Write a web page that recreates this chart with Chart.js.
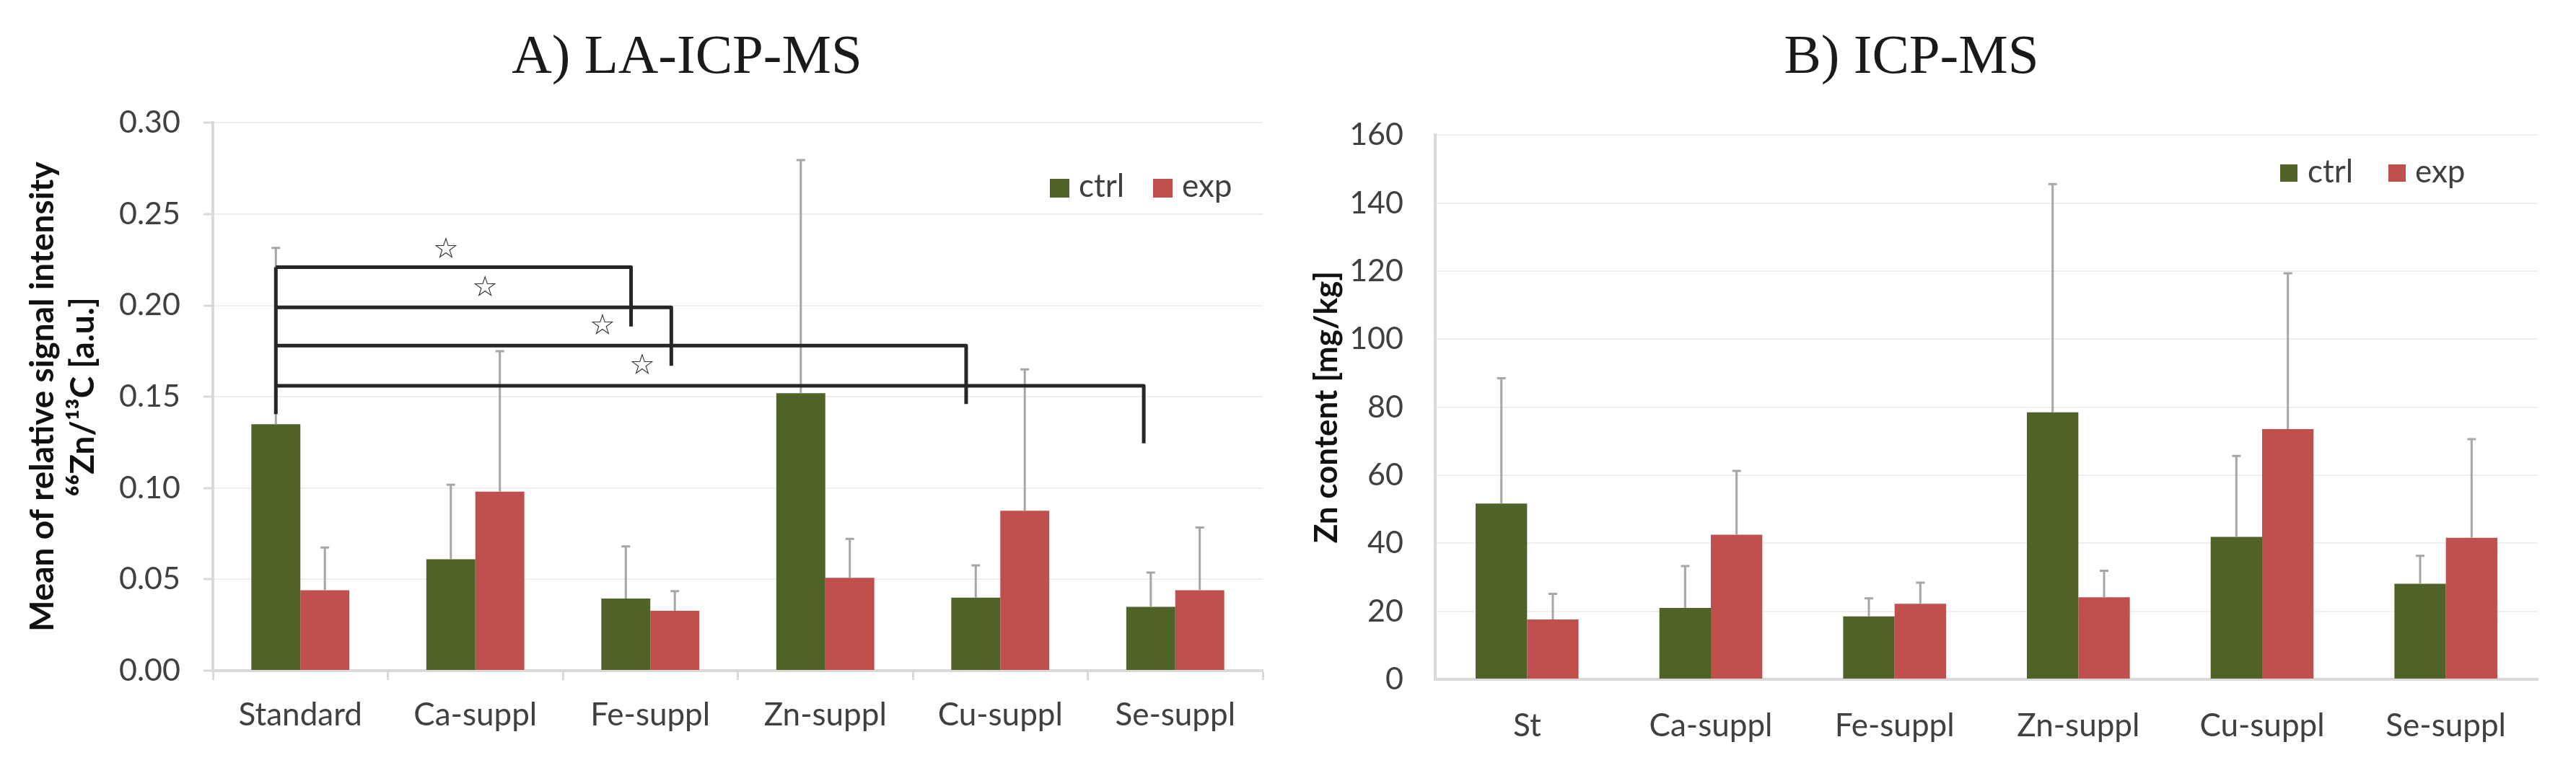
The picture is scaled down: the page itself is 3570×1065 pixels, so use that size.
<!DOCTYPE html>
<html><head><meta charset="utf-8">
<script src="https://cdn.jsdelivr.net/npm/chart.js@4/dist/chart.umd.min.js"></script>
<style>
html,body{margin:0;padding:0;background:#fff;width:3570px;height:1065px;overflow:hidden}
canvas{position:absolute;top:0}
#cA{left:0}
#cB{left:1728px}
</style></head><body>
<canvas id="cA" width="1904" height="1065"></canvas>
<canvas id="cB" width="1842" height="1065"></canvas>
<script>
// ---------- data ----------
const categoriesA = ['Standard','Ca-suppl','Fe-suppl','Zn-suppl','Cu-suppl','Se-suppl'];
const categoriesB = ['St','Ca-suppl','Fe-suppl','Zn-suppl','Cu-suppl','Se-suppl'];
const seriesNames = ['ctrl','exp'];

const ctrlA   = [0.135, 0.061, 0.0395, 0.152, 0.040, 0.035];
const ctrlSdA = [0.0965, 0.0408, 0.0285, 0.1276, 0.0177, 0.0187];
const expA    = [0.044, 0.098, 0.0328, 0.0508, 0.0876, 0.044];
const expSdA  = [0.0234, 0.077, 0.0107, 0.0214, 0.0774, 0.0344];

const ctrlB   = [51.7, 21.0, 18.5, 78.5, 41.9, 28.1];
const ctrlSdB = [36.8, 12.3, 5.3, 67.1, 23.8, 8.2];
const expB    = [17.6, 42.5, 22.2, 24.1, 73.6, 41.6];
const expSdB  = [7.5, 18.8, 6.2, 7.8, 45.8, 29.0];

const yTicksA = [0, 0.05, 0.10, 0.15, 0.20, 0.25, 0.30];
const yTicksB = [0, 20, 40, 60, 80, 100, 120, 140, 160];

// significance brackets (x in category-index units, y in axis units)
const bracketFrom    = -0.14;
const bracketFromLow = 0.1405;
const bracketLevel   = [0.221, 0.199, 0.178, 0.156];
const bracketTo      = [1.89, 2.12, 3.805, 4.82];
const bracketToLow   = [0.1885, 0.167, 0.146, 0.1245];
const starX = [0.832, 1.055, 1.727, 1.953];
const starY = [0.230, 0.209, 0.188, 0.1665];

// ---------- styles ----------
const GREEN = '#4f6228', RED = '#c0504d';
const AXIS = '#d9d9d9', GRID = '#eeeeee', TXT = '#404040';
Chart.defaults.font.family = 'Lato';

// ---------- plugins ----------
function errorBarPlugin() {
  return {
    id: 'errorBars',
    afterDatasetDraw(chart, args) {
      const ds = chart.data.datasets[args.index];
      if (!ds.errors) return;
      const y = chart.scales.y, ctx = chart.ctx;
      ctx.save();
      ctx.strokeStyle = '#a6a6a6';
      ctx.lineWidth = 3;
      args.meta.data.forEach((bar, i) => {
        const yb = y.getPixelForValue(ds.data[i]);
        const yt = y.getPixelForValue(ds.data[i] + ds.errors[i]);
        ctx.beginPath();
        ctx.moveTo(bar.x, yb); ctx.lineTo(bar.x, yt);
        ctx.moveTo(bar.x - 6, yt); ctx.lineTo(bar.x + 6, yt);
        ctx.stroke();
      });
      ctx.restore();
    }
  };
}
function legendPlugin(cfg) {
  return {
    id: 'insideLegend',
    afterDraw(chart) {
      const ctx = chart.ctx;
      ctx.save();
      ctx.font = '44px Lato';
      ctx.textAlign = 'left';
      ctx.textBaseline = 'alphabetic';
      chart.data.datasets.forEach((d, i) => {
        ctx.fillStyle = d.backgroundColor;
        ctx.fillRect(cfg.boxX[i], cfg.boxTop, cfg.boxW, cfg.boxH);
        ctx.fillStyle = TXT;
        ctx.fillText(d.label, cfg.textX[i], cfg.baseline);
      });
      ctx.restore();
    }
  };
}
function bracketPlugin() {
  return {
    id: 'brackets',
    afterDatasetsDraw(chart) {
      const xs = chart.scales.x, ys = chart.scales.y, ctx = chart.ctx;
      const X = v => xs.getPixelForValue(v), Y = v => ys.getPixelForValue(v);
      ctx.save();
      ctx.strokeStyle = '#262626';
      ctx.lineWidth = 5;
      ctx.lineJoin = 'round';
      ctx.beginPath();
      ctx.moveTo(X(bracketFrom), Y(bracketFromLow));
      ctx.lineTo(X(bracketFrom), Y(bracketLevel[0]));
      ctx.stroke();
      bracketLevel.forEach((lv, i) => {
        ctx.beginPath();
        ctx.moveTo(X(bracketFrom), Y(lv));
        ctx.lineTo(X(bracketTo[i]), Y(lv));
        ctx.lineTo(X(bracketTo[i]), Y(bracketToLow[i]));
        ctx.stroke();
      });
      ctx.font = '40px "DejaVu Sans"';
      ctx.fillStyle = '#333';
      ctx.textAlign = 'center';
      ctx.textBaseline = 'middle';
      starX.forEach((v, i) => ctx.fillText('\u2606', X(v), Y(starY[i])));
      ctx.restore();
    }
  };
}

function barSets(ctrl, ctrlSd, exp, expSd) {
  return [
    {label: seriesNames[0], data: ctrl, errors: ctrlSd, backgroundColor: GREEN},
    {label: seriesNames[1], data: exp, errors: expSd, backgroundColor: RED}
  ];
}

function spacer(w) {
  return {type: 'linear', position: 'right', display: true, grid: {display: false},
    border: {display: false}, ticks: {display: false}, afterFit(s) { s.width = w; }};
}

// ---------- chart A ----------
new Chart(document.getElementById('cA'), {
  type: 'bar',
  data: {labels: categoriesA, datasets: barSets(ctrlA, ctrlSdA, expA, expSdA)},
  options: {
    responsive: false, animation: false, devicePixelRatio: 1, events: [],
    datasets: {bar: {categoryPercentage: 0.56, barPercentage: 1.0}},
    layout: {padding: 0},
    plugins: {
      legend: {display: false}, tooltip: {enabled: false},
      title: {display: true, text: 'A) LA-ICP-MS', color: '#1a1a1a',
        font: {family: 'Liberation Serif', size: 77, weight: 'normal'}, padding: {top: 35, bottom: 43}}
    },
    scales: {
      x: {type: 'category', offset: true,
        grid: {display: true, drawOnChartArea: false, drawTicks: true, tickLength: 13, tickColor: AXIS, tickWidth: 3, offset: true},
        border: {color: AXIS, width: 4},
        ticks: {color: TXT, font: {size: 44}, padding: 22, autoSkip: false, maxRotation: 0},
        afterFit(s) { s.height = 135; }},
      y: {type: 'linear', min: 0, max: 0.30,
        afterBuildTicks(s) { s.ticks = yTicksA.map(v => ({value: v})); },
        grid: {color: GRID, lineWidth: 2, drawTicks: true, tickLength: 13, tickColor: AXIS, tickWidth: 3},
        border: {color: AXIS, width: 4},
        ticks: {color: TXT, font: {size: 43}, padding: 32, callback: v => Number(v).toFixed(2)},
        title: {display: true, text: ['Mean of relative signal intensity', '\u2076\u2076Zn/\u00b9\u00b3C [a.u.]'],
          color: '#111', font: {size: 46, weight: 'bold', lineHeight: 1.22}, padding: {top: 31, bottom: 0}},
        afterFit(s) { s.width = 295; }},
      yr: spacer(154)
    }
  },
  plugins: [errorBarPlugin(), bracketPlugin(),
    legendPlugin({boxX: [1455, 1598], boxTop: 248, boxW: 27, boxH: 26, textX: [1495, 1638], baseline: 273})]
});

// ---------- chart B ----------
new Chart(document.getElementById('cB'), {
  type: 'bar',
  data: {labels: categoriesB, datasets: barSets(ctrlB, ctrlSdB, expB, expSdB)},
  options: {
    responsive: false, animation: false, devicePixelRatio: 1, events: [],
    datasets: {bar: {categoryPercentage: 0.56, barPercentage: 1.0}},
    layout: {padding: 0},
    plugins: {
      legend: {display: false}, tooltip: {enabled: false},
      title: {display: true, text: 'B) ICP-MS', color: '#1a1a1a',
        font: {family: 'Liberation Serif', size: 77, weight: 'normal'}, padding: {top: 35, bottom: 60}}
    },
    scales: {
      x: {type: 'category', offset: true,
        grid: {display: true, drawOnChartArea: false, drawTicks: false, offset: true},
        border: {color: AXIS, width: 4},
        ticks: {color: TXT, font: {size: 44}, padding: 38, autoSkip: false, maxRotation: 0},
        afterFit(s) { s.height = 123; }},
      y: {type: 'linear', min: 0, max: 160,
        afterBuildTicks(s) { s.ticks = yTicksB.map(v => ({value: v})); },
        grid: {color: GRID, lineWidth: 2, drawTicks: false},
        border: {color: AXIS, width: 4},
        ticks: {color: TXT, font: {size: 43}, padding: 44},
        title: {display: true, text: 'Zn content [mg/kg]', color: '#111',
          font: {size: 44, weight: 'bold'}, padding: {top: 84, bottom: 0}},
        afterFit(s) { s.width = 261; }},
      yr: spacer(53)
    }
  },
  plugins: [errorBarPlugin(),
    legendPlugin({boxX: [1432, 1582], boxTop: 228, boxW: 24, boxH: 24, textX: [1470, 1619], baseline: 253})]
});
</script>
</body></html>
